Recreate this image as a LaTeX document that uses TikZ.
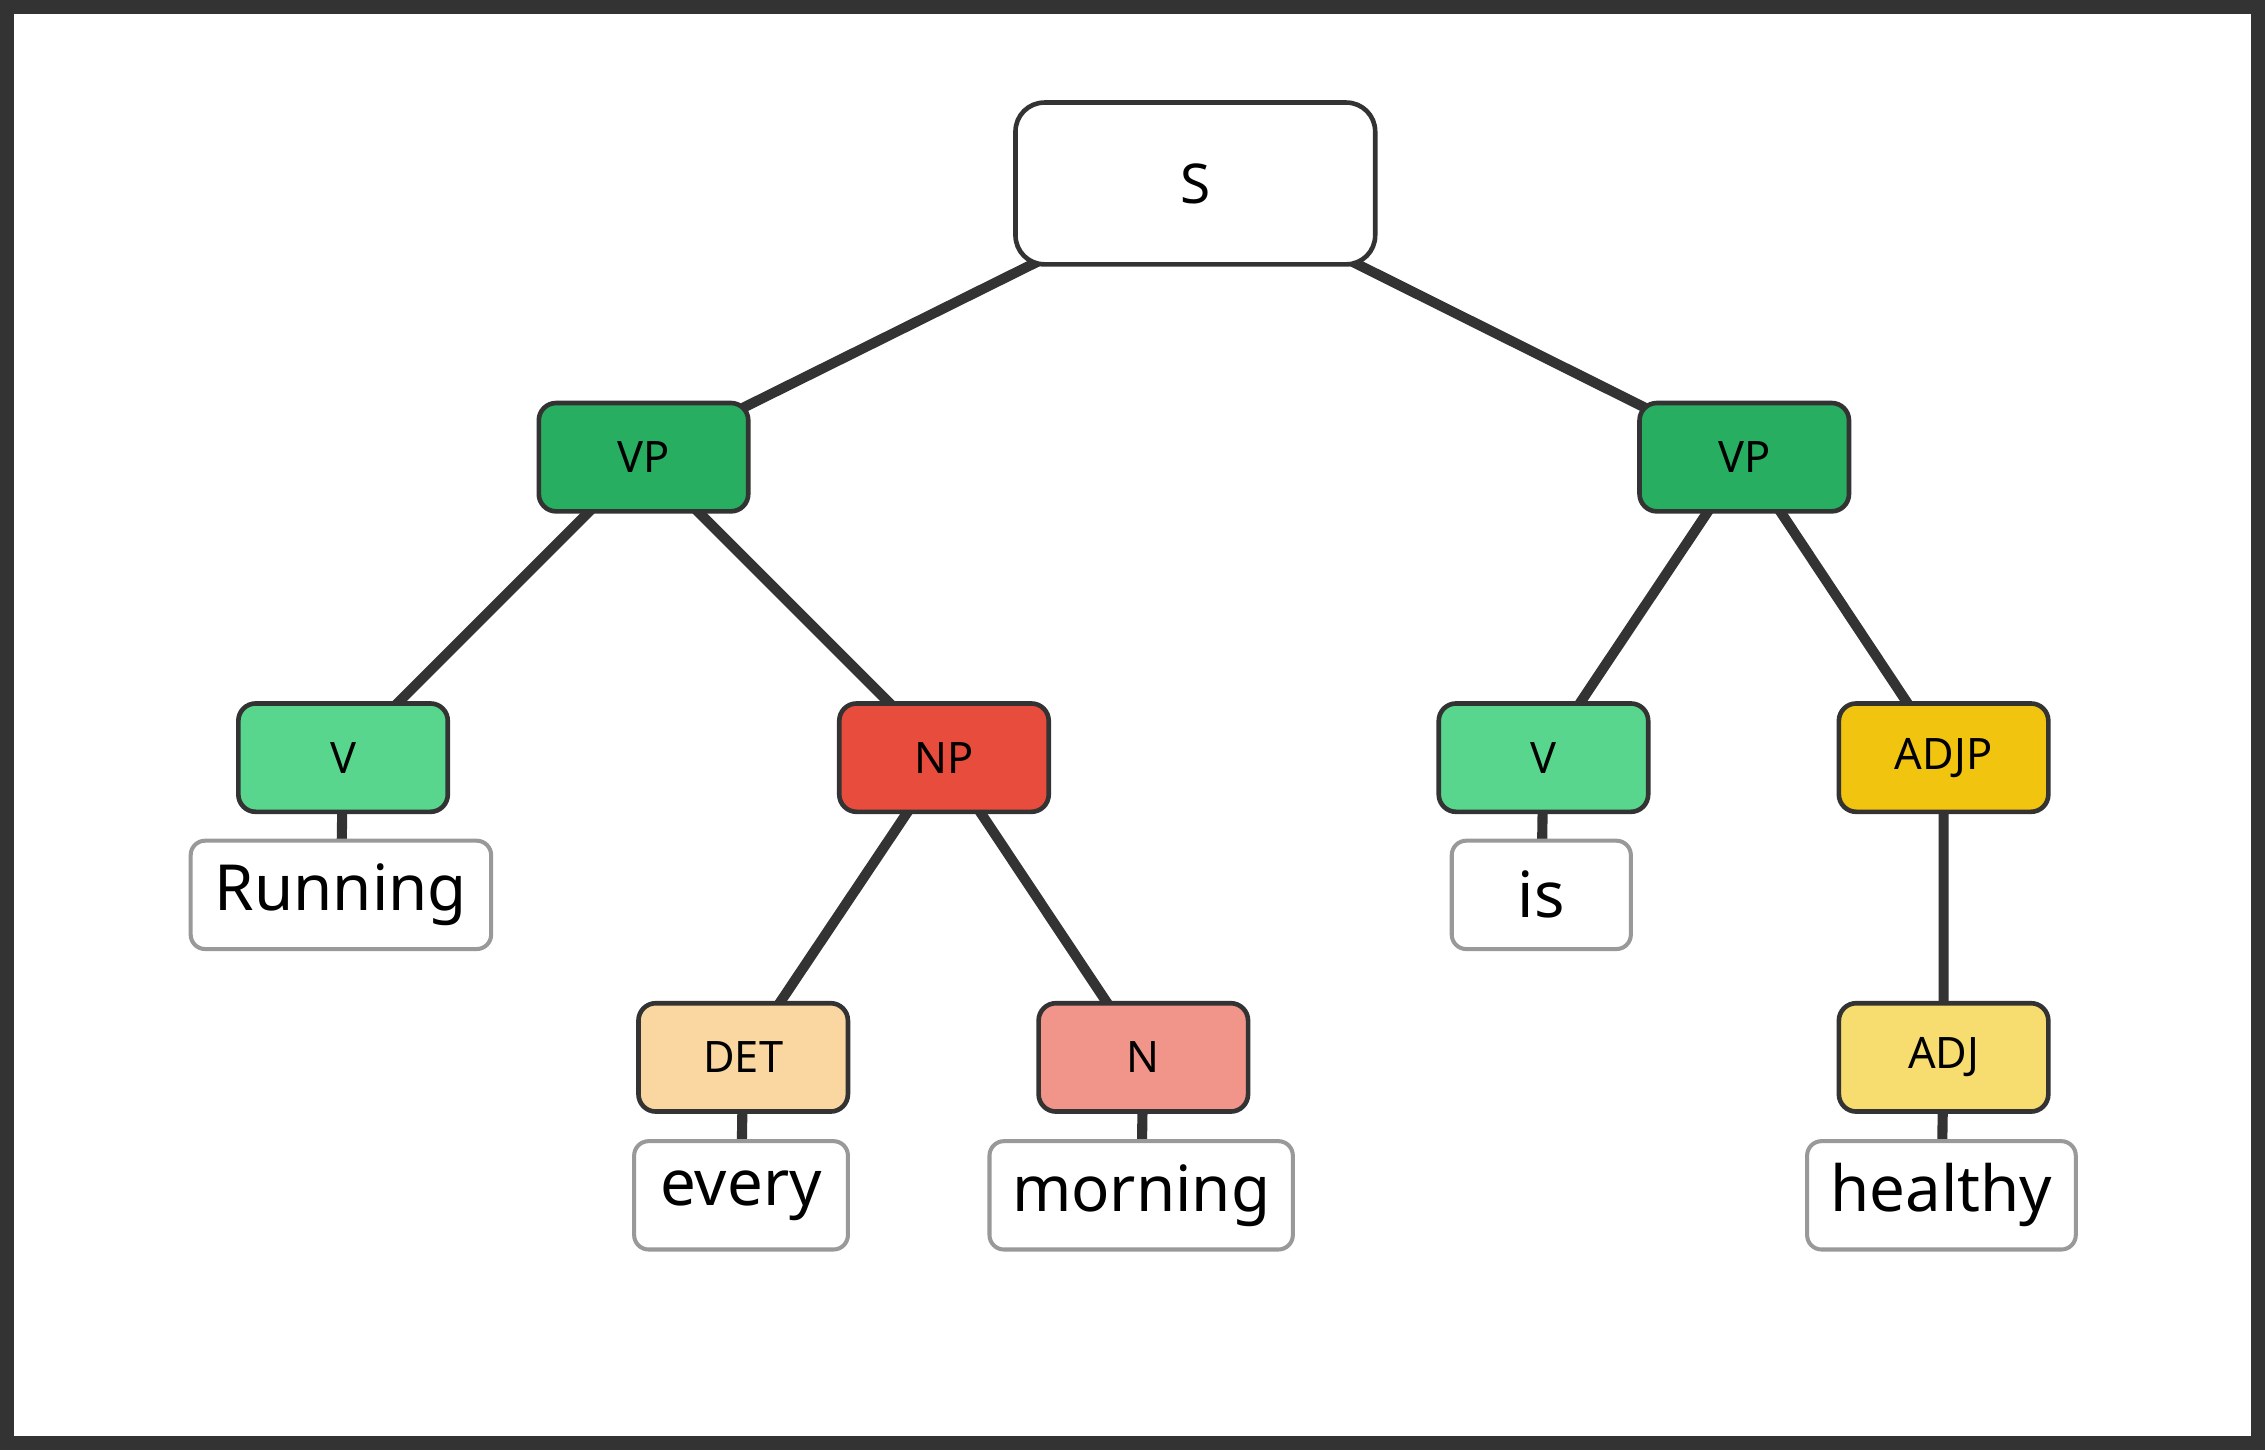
\documentclass[tikz,border=0pt]{standalone}
\usepackage{fontspec}
\setmainfont{Noto Sans}
\begin{document}
\begin{tikzpicture}[x=0.5pt,y=-0.5pt,
  cat/.style={draw=black!80,line width=1.6pt,rounded corners=6pt,minimum width=72.5pt,minimum height=37.5pt,inner sep=0pt,font=\fontsize{15}{18}\selectfont\bfseries},
  leaf/.style={draw=black!40,fill=white,line width=1.4pt,rounded corners=5pt,minimum height=37.5pt,inner sep=0pt,font=\fontsize{22}{26}\selectfont},
  edge/.style={draw=black!80,line width=3.5pt}]
\useasboundingbox (0,0) rectangle (1568,1004);
\draw[black!80,line width=5pt,fill=white] (5,5) rectangle (1563,999);
\coordinate (cS) at (827.5,127);
\coordinate (cVP1) at (445.5,316.5);
\coordinate (cVP2) at (1207.5,316.5);
\coordinate (cV1) at (237.5,524.5);
\coordinate (cNP) at (653.5,524.5);
\coordinate (cV2) at (1068.5,524.5);
\coordinate (cADJP) at (1345.5,524.5);
\coordinate (cDET) at (514.5,732);
\coordinate (cN) at (791.5,732);
\coordinate (cADJ) at (1345.5,732);
\coordinate (cR) at (236,619.5);
\coordinate (cis) at (1067,619.5);
\coordinate (cev) at (513,827.5);
\coordinate (cmo) at (790,827.5);
\coordinate (che) at (1344,827.5);
\draw[edge] (cS)--(cVP1) (cS)--(cVP2) (cVP1)--(cV1) (cVP1)--(cNP) (cVP2)--(cV2) (cVP2)--(cADJP)
  (cNP)--(cDET) (cNP)--(cN) (cADJP)--(cADJ) (cV1)--(cR) (cV2)--(cis) (cDET)--(cev) (cN)--(cmo) (cADJ)--(che);
\node[cat,fill=white,minimum width=124.5pt,minimum height=56pt,rounded corners=10pt,font=\fontsize{19}{22}\selectfont\bfseries] (S) at (cS) {S};
\node[cat,fill=green!50!black!0,fill={rgb,255:red,39;green,174;blue,96}] (VP1) at (cVP1) {VP};
\node[cat,fill={rgb,255:red,39;green,174;blue,96}] (VP2) at (cVP2) {VP};
\node[cat,fill={rgb,255:red,88;green,214;blue,141}] (V1) at (cV1) {V};
\node[cat,fill={rgb,255:red,231;green,76;blue,60}] (NP) at (cNP) {NP};
\node[cat,fill={rgb,255:red,88;green,214;blue,141}] (V2) at (cV2) {V};
\node[cat,fill={rgb,255:red,241;green,196;blue,15}] (ADJP) at (cADJP) {ADJP};
\node[cat,fill={rgb,255:red,250;green,215;blue,160}] (DET) at (cDET) {DET};
\node[cat,fill={rgb,255:red,241;green,148;blue,138}] (N) at (cN) {N};
\node[cat,fill={rgb,255:red,247;green,220;blue,111}] (ADJ) at (cADJ) {ADJ};
\node[leaf,minimum width=104pt] (R) at (cR) {Running};
\node[leaf,minimum width=62pt] (is) at (cis) {is};
\node[leaf,minimum width=74pt] (ev) at (cev) {every};
\node[leaf,minimum width=105pt] (mo) at (cmo) {morning};
\node[leaf,minimum width=93pt] (he) at (che) {healthy};
\end{tikzpicture}
\end{document}
